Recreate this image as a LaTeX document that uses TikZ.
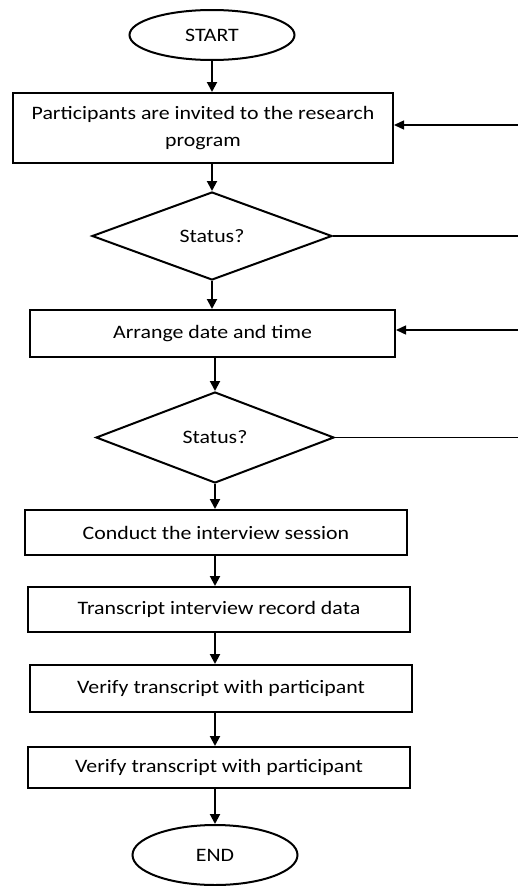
\documentclass[tikz,border=0pt]{standalone}
\usepackage{fontspec}
\setmainfont{Carlito}[FakeStretch=1.15]
\usetikzlibrary{shapes.geometric,arrows.meta}
\tikzset{
  box/.style={draw,line width=2pt,rectangle,inner sep=0pt,align=center,font=\fontsize{19}{27}\selectfont},
  term/.style={draw,line width=2pt,ellipse,inner sep=0pt,font=\fontsize{19}{22}\selectfont},
  dec/.style={draw,line width=2pt,diamond,inner sep=0pt,font=\fontsize{19}{22}\selectfont},
  arr/.style={line width=2pt,-{Triangle[length=10pt,width=10pt]}},
  fb/.style={line width=1.4pt},
  fbarr/.style={line width=1.4pt,-{Triangle[length=10pt,width=9pt]}}
}
\begin{document}
\begin{tikzpicture}[x=1pt,y=-1pt]
\useasboundingbox (0,0) rectangle (518,886);
\node[term,minimum width=165,minimum height=50] (start) at (212,35) {START};
\node[box,minimum width=380,minimum height=70] (b1) at (203,128) {Participants are invited to the research\\program};
\node[dec,minimum width=240,minimum height=88] (d1) at (212,236) {Status?};
\node[box,minimum width=365,minimum height=47] (b2) at (212.5,333.5) {Arrange date and time};
\node[dec,minimum width=238,minimum height=91] (d2) at (215,437.5) {Status?};
\node[box,minimum width=382,minimum height=45] (b3) at (216,532.5) {Conduct the interview session};
\node[box,minimum width=382,minimum height=45] (b4) at (219,609.5) {Transcript interview record data};
\node[box,minimum width=382,minimum height=47] (b5) at (221,688.5) {Verify transcript with participant};
\node[box,minimum width=382,minimum height=41] (b6) at (219,767.5) {Verify transcript with participant};
\node[term,minimum width=165,minimum height=60] (end) at (215,855) {END};
\coordinate (r1) at (518,125);
\coordinate (r2) at (518,236);
\coordinate (r3) at (518,330);
\coordinate (r4) at (518,437.5);
\draw[arr] (start.south) -- (start.south |- b1.north);
\draw[arr] (d1.north |- b1.south) -- (d1.north);
\draw[arr] (d1.south) -- (d1.south |- b2.north);
\draw[arr] (d2.north |- b2.south) -- (d2.north);
\draw[arr] (d2.south) -- (d2.south |- b3.north);
\draw[arr] (d2.south |- b3.south) -- (d2.south |- b4.north);
\draw[arr] (d2.south |- b4.south) -- (d2.south |- b5.north);
\draw[arr] (d2.south |- b5.south) -- (d2.south |- b6.north);
\draw[arr] (d2.south |- b6.south) -- (end);
\draw[fbarr] (r1) -- (r1 -| b1.east);
\draw[fb] (d1.east) -- (r2);
\draw[fbarr] (r3) -- (r3 -| b2.east);
\draw[fb] (d2.east) -- (r4);
\end{tikzpicture}
\end{document}
